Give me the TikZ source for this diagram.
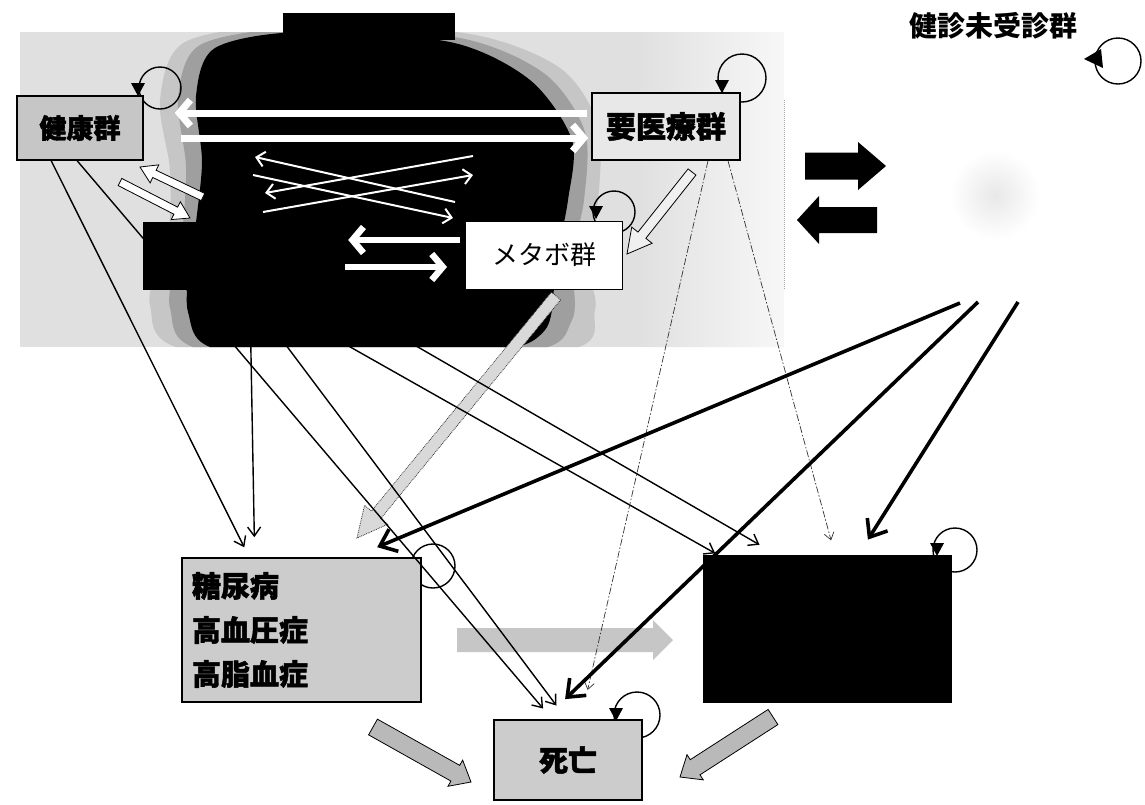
\documentclass[tikz,border=0pt]{standalone}
\usepackage{fontspec}
\newfontfamily\jp{Noto Sans CJK JP}
\newfontfamily\jpheavy{Noto Sans CJK JP}[FakeBold=1.6]
\usetikzlibrary{arrows.meta,calc}
\pgfdeclarelayer{bg}
\pgfsetlayers{bg,main}

% block arrow: [options]{from}{to}{half shaft}{half head}{head length}
\newcommand\blockarrow[6][]{%
  \coordinate (ba-s) at (#2);
  \coordinate (ba-e) at (#3);
  \coordinate (ba-h) at ($(ba-e)!#6!(ba-s)$);
  \path[#1] ($(ba-s)!#4!90:(ba-e)$) -- ($(ba-h)!#4!90:(ba-e)$)
    -- ($(ba-h)!#5!90:(ba-e)$) -- (ba-e) -- ($(ba-h)!#5!-90:(ba-e)$)
    -- ($(ba-h)!#4!-90:(ba-e)$) -- ($(ba-s)!#4!-90:(ba-e)$) -- cycle;}
% filled triangle of a self loop, tip at #1
\newcommand\looptip[1]{\fill ($(#1)+(-7,-13)$) -- ($(#1)+(7,-13)$) -- (#1) -- cycle;}

\begin{document}
\begin{tikzpicture}[x=1pt,y=-1pt,
  box/.style={draw=black, line width=1.6pt, inner sep=0pt, text=black},
  jpb/.style={font=\jpheavy\bfseries\fontsize{#1}{#1}\selectfont},
  conn/.style={line width=1.4pt, -{Straight Barb[length=9pt,width=13pt]}},
  heavy/.style={line width=3.6pt, -{Straight Barb[length=15pt,width=24pt]}},
  dashdot/.style={black!80, line width=0.7pt, dash pattern=on 7pt off 2pt on 1.5pt off 2pt, -{Straight Barb[length=7pt,width=10pt]}},
  wthin/.style={white, line width=2pt, -{Straight Barb[length=8pt,width=15pt]}},
  wthick/.style={white, line width=6.5pt, -{Straight Barb[length=11pt,width=26pt]}},
  loopc/.style={line width=1.4pt}
]
\useasboundingbox (0,0) rectangle (1145,804);

% ---- group boxes ----
\node[box, fill=gray!45, minimum width=126pt, minimum height=64pt, jpb=27] (kenko) at (80,128) {健康群};
\node[box, fill=gray!18, minimum width=148pt, minimum height=67pt, jpb=30] (yoiryo) at (666,126.5) {要医療群};
\node[draw=black, line width=1pt, fill=white, minimum width=157pt, minimum height=68pt, inner sep=0pt,
      font=\jp\fontsize{26}{26}\selectfont] (metabo) at (544,255) {メタボ群};
\node[fill=black, minimum width=197pt, minimum height=68pt, inner sep=0pt] (reserve) at (241.5,256) {};
\node[box, fill=gray!40, minimum width=239pt, minimum height=144pt, text width=219pt, inner xsep=10pt,
      align=left, font=\jpheavy\bfseries\fontsize{29}{44}\selectfont] (dm) at (301.5,630) {糖尿病\\高血圧症\\高脂血症};
\node[box, fill=gray!40, minimum width=148pt, minimum height=80pt, jpb=29] (death) at (568,760) {死亡};
\node[fill=black, minimum width=249pt, minimum height=148pt, inner sep=0pt] (late) at (827.5,629) {};
\node[font=\jp\bfseries\fontsize{28}{28}\selectfont] (unexam) at (993,26) {健診未受診群};
\coordinate (ugrp) at (995,195);
\coordinate (u1) at (960,303);
\coordinate (u2) at (978,302);
\coordinate (u3) at (1018,302);

% ---- background: screened area with dark core, self loops ----
\begin{pgfonlayer}{bg}
  \fill[white] (0,0) rectangle (1145,804);
  \begin{scope}
    \clip (20,32) rectangle (784,347) (283,13) rectangle (455,40);
    \fill[gray!24] (20,32) rectangle (640,347);
    \shade[left color=gray!24, right color=gray!6] (640,32) rectangle (784,347);
    \fill[gray!45] plot[smooth cycle] coordinates {(185,42) (300,24) (470,34) (560,68) (598,125) (598,200)
      (585,255) (595,310) (555,352) (200,352) (150,305) (168,235) (170,170) (160,100)};
    \fill[gray!75] plot[smooth cycle] coordinates {(200,45) (300,28) (460,38) (545,74) (585,132) (584,200)
      (572,258) (572,320) (520,352) (215,352) (170,308) (182,233) (186,166) (178,98)};
    \fill[black] plot[smooth cycle] coordinates {(215,48) (300,32) (450,42) (530,80) (572,140) (568,200)
      (556,262) (545,330) (480,352) (230,352) (188,312) (195,232) (202,162) (196,96)};
    \fill[black] (283,13) rectangle (455,40);
  \end{scope}
  \draw[gray!70, densely dotted, line width=1pt] (784,100) -- (784,290);
  \shade[inner color=gray!18, outer color=white] (ugrp) circle[radius=45pt];
  % self loops
  \draw[loopc] (160,88) circle[radius=21pt]; \looptip{138,96}
  \draw[loopc] (742,78) circle[radius=24pt]; \looptip{722,93}
  \draw[loopc] (614,212) circle[radius=21pt]; \looptip{596,219}
  \draw[loopc] (433,566) circle[radius=22pt];
  \draw[loopc] (955,550) circle[radius=22pt]; \looptip{937,556}
  \draw[loopc] (637,715) circle[radius=23pt]; \looptip{616,721}
  \draw[loopc] (1118,61) circle[radius=23pt];
  \fill (1084,59) -- (1101,49) -- (1103,68) -- cycle;
\end{pgfonlayer}

% ---- block arrows ----
\blockarrow[fill=white, draw=black, line width=0.8pt]{203,197}{140,167}{4pt}{10pt}{16pt}
\blockarrow[fill=white, draw=black, line width=0.8pt]{120,182}{190,218}{4pt}{10pt}{16pt}
\blockarrow[fill=gray!12, draw=black, line width=0.8pt]{692,172}{627,254}{5pt}{13pt}{24pt}
\blockarrow[fill=gray!30, draw=gray!40!black, line width=0.8pt, densely dotted]{556,296}{357,538}{6pt}{15pt}{30pt}
\blockarrow[fill=gray!45]{457,640}{673,640}{12pt}{20pt}{20pt}
\blockarrow[fill=gray!55, draw=black, line width=0.8pt]{373,727}{471,782}{9pt}{15pt}{18pt}
\blockarrow[fill=gray!55, draw=black, line width=0.8pt]{773,717}{680,777}{9pt}{15pt}{18pt}
\blockarrow[fill=black]{805,166}{886,166}{13.5pt}{24pt}{28pt}
\blockarrow[fill=black]{877,220}{797,220}{13pt}{24pt}{22pt}

% ---- white transitions inside the screened area ----
\draw[wthick, line width=7pt] ([xshift=-4pt,yshift=13.5pt]yoiryo.west) -- ([xshift=31pt,yshift=15pt]kenko.east);
\draw[wthick, line width=7pt] ([xshift=37pt,yshift=-10pt]kenko.east) -- ([xshift=-3pt,yshift=-11.5pt]yoiryo.west);
\draw[wthin] (455,202) -- (255,157);
\draw[wthin] (473,156) -- (265,193);
\draw[wthin] (253,175) -- (453,218);
\draw[wthin] (263,212) -- (473,175);
\draw[wthick] ([xshift=-5pt,yshift=15pt]metabo.west) -- ([xshift=8pt,yshift=16pt]reserve.east);
\draw[wthick] ([xshift=5pt,yshift=-11pt]reserve.east) -- ([xshift=-18pt,yshift=-12pt]metabo.west);

% ---- thin transitions ----
\draw[conn, shorten >=11pt] ([xshift=35pt]kenko.south west) -- ([xshift=68pt]dm.north west);
\draw[conn, shorten >=14pt] ([xshift=61pt]kenko.south west) -- ([xshift=59pt]death.north west);
\draw[conn, shorten >=20pt] ([xshift=107pt]reserve.south west) -- ([xshift=73.5pt]dm.north west);
\draw[conn, shorten >=17pt] ([xshift=102pt]reserve.south west) -- ([xshift=73.5pt]death.north west);
\draw[conn, shorten >=20pt] ([xshift=177pt]reserve.south west) -- ([xshift=74pt]late.north west);
\draw[conn, shorten >=3pt] ([xshift=107pt]reserve.south west) -- ([xshift=15pt]late.north west);
\draw[dashdot, shorten >=30pt] ([xshift=42pt]yoiryo.south) -- ([xshift=13pt]death.north);
\draw[dashdot, shorten >=15pt] ([xshift=62pt]yoiryo.south) -- ([xshift=7.5pt]late.north);

% ---- transitions from the unexamined group ----
\draw[heavy, shorten >=26pt] (u1) -- ([xshift=172pt]dm.north west);
\draw[heavy, shorten >=29pt] (u2) -- ([xshift=51pt]death.north west);
\draw[heavy, shorten >=18pt] (u3) -- ([xshift=155.5pt]late.north west);
\end{tikzpicture}
\end{document}
